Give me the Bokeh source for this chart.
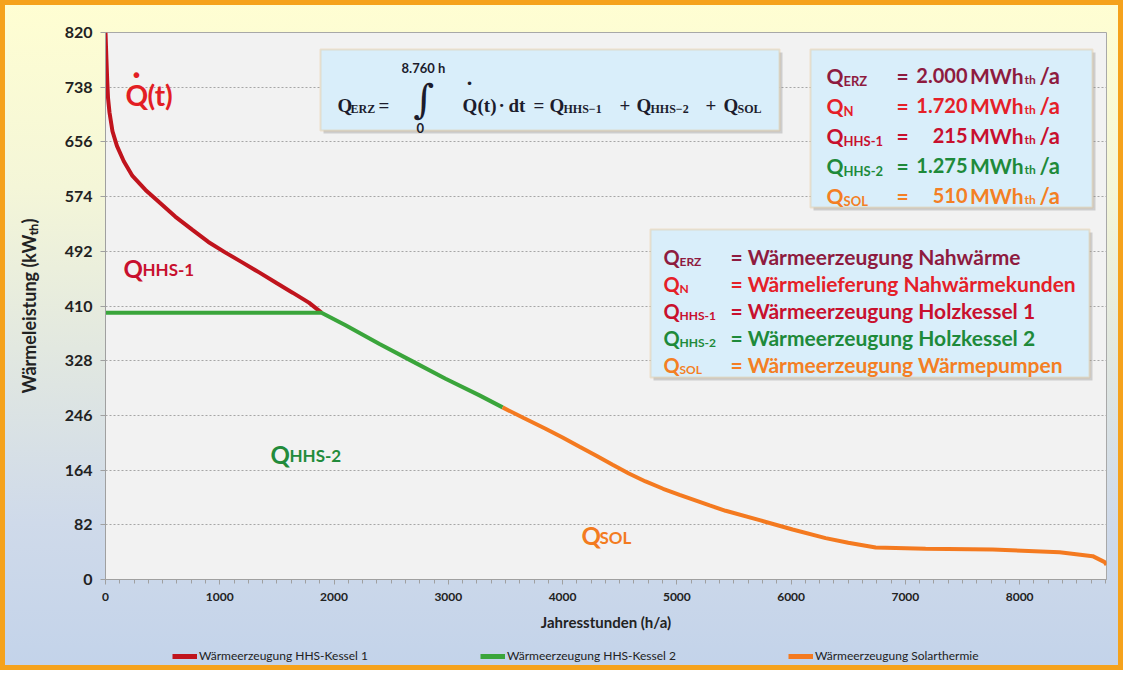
from bokeh.plotting import figure
from bokeh.layouts import column
from bokeh.models import (Range1d, FixedTicker, Label, BoxAnnotation, Legend, LegendItem)
from bokeh.embed import file_html
from bokeh.resources import INLINE

# ---------------- data ----------------
red_hours = [0, 8, 15, 22, 35, 61, 100, 160, 236, 350, 473, 610, 761, 900, 1050, 1200, 1348, 1500, 1637, 1780, 1890]
red_kw = [820, 780, 748, 722, 700, 672, 650, 627, 605, 584, 565, 544, 524, 506, 490, 475, 460, 444, 430, 415, 400]

green_hours = [0, 1890, 2101, 2398, 2687, 2976, 3273, 3475]
green_kw = [400, 400, 381, 353, 327, 301, 276, 258]

orange_hours = [3475, 3660, 3851, 4000, 4149, 4300, 4438, 4580, 4726, 4880, 5024, 5287, 5427, 5724, 6013,
                6302, 6500, 6740, 7177, 7764, 8350, 8639, 8744, 8760]
orange_kw = [258, 242, 226, 213, 199, 185, 172, 159, 147, 136, 127, 111, 103, 89, 75,
             62, 55, 48, 46, 45, 41, 35, 26, 22]

y_ticks = [0, 82, 164, 246, 328, 410, 492, 574, 656, 738, 820]
x_ticks = [0, 1000, 2000, 3000, 4000, 5000, 6000, 7000, 8000]
x_minor = list(range(0, 8761, 125))

series_names = ["Wärmeerzeugung HHS-Kessel 1", "Wärmeerzeugung HHS-Kessel 2",
                "Wärmeerzeugung Solarthermie"]
series_colors = ["#c0141d", "#3aa53b", "#f47a20"]
series_data = [(red_hours, red_kw), (green_hours, green_kw), (orange_hours, orange_kw)]

# ---------------- main figure ----------------
FONT = "Lato"
p = figure(width=1123, height=640, output_backend="svg", toolbar_location=None,
           x_range=Range1d(0, 8760), y_range=Range1d(0, 820),
           min_border_left=105, min_border_right=17, min_border_top=32, min_border_bottom=61)
p.border_fill_color = None
p.border_fill_alpha = 0
p.background_fill_color = "#f2f2f2"
p.outline_line_color = "#a8a8a8"

p.xgrid.visible = False
p.ygrid.grid_line_color = "#a6a6a6"
p.ygrid.grid_line_dash = "2 2"
p.ygrid.grid_line_width = 1

p.yaxis.ticker = FixedTicker(ticks=y_ticks)
p.xaxis.ticker = FixedTicker(ticks=x_ticks, minor_ticks=x_minor)

for ax in (p.xaxis[0], p.yaxis[0]):
    ax.axis_line_color = "#a0a0a0"
    ax.major_tick_line_color = "#a0a0a0"
    ax.minor_tick_line_color = "#a0a0a0"
    ax.major_tick_in = 0
    ax.major_tick_out = 5
    ax.minor_tick_in = 0
    ax.minor_tick_out = 4
    ax.major_label_text_font = FONT
    ax.major_label_text_font_style = "bold"
    ax.major_label_text_color = "#222222"
    ax.axis_label_text_font = FONT
    ax.axis_label_text_font_style = "bold"
    ax.axis_label_text_color = "#222222"

p.yaxis.minor_tick_out = 0
p.yaxis.major_label_text_font_size = "16px"
p.yaxis.major_label_standoff = 8
p.yaxis.axis_label = "Wärmeleistung (kWₜₕ)"
p.yaxis.axis_label_text_font_size = "18px"
p.yaxis.axis_label_standoff = 22

p.xaxis.major_label_text_font_size = "12px"
p.xaxis.major_label_standoff = 8
p.xaxis.axis_label = "Jahresstunden (h/a)"
p.xaxis.axis_label_text_font_size = "15px"
p.xaxis.axis_label_standoff = 9

for (hx, ky), col in zip(series_data, series_colors):
    p.line(hx, ky, line_color=col, line_width=4)

# ---------------- annotation helpers (page pixel positions -> frame screen units) ----------------
FL, FB = 113, 587


def box(l, t, r, b):
    p.add_layout(BoxAnnotation(left=l - FL + 3, right=r - FL + 3, top=FB - t - 3, bottom=FB - b - 3,
                               left_units="screen", right_units="screen", top_units="screen",
                               bottom_units="screen", fill_color="#8a8a8a", fill_alpha=0.35,
                               line_alpha=0))
    p.add_layout(BoxAnnotation(left=l - FL, right=r - FL, top=FB - t, bottom=FB - b,
                               left_units="screen", right_units="screen", top_units="screen",
                               bottom_units="screen", fill_color="#d9eefa", fill_alpha=1,
                               line_color="#e3b672", line_width=2))


def txt(x, y, s, size, color, font=FONT, style="bold", align="left"):
    p.add_layout(Label(x=x - FL, y=FB - y, x_units="screen", y_units="screen", text=s,
                       text_font=font, text_font_size=f"{size}px", text_font_style=style,
                       text_color=color, text_baseline="alphabetic", text_align=align))


box(328, 57, 787, 138)
box(818, 57, 1100, 215)
box(658, 237, 1097, 385)

# formula
SER = "Liberation Serif"
FC = "#1c1c2c"
txt(345, 113, "Q", 19, FC, SER)
txt(358, 116, "ERZ", 12, FC, SER)
txt(386, 113, "=", 19, FC, SER)
txt(421, 106, "∫", 40, FC, "DejaVu Serif", "normal")
txt(409, 75, "8.760 h", 13, FC)
txt(424, 135, "0", 13, FC)
txt(470, 113, "Q", 19, FC, SER)
txt(477, 97, "˙", 24, FC, SER, "bold", "center")
txt(485, 113, "(t)", 19, FC, SER)
txt(506, 113, "·", 19, FC, SER)
txt(516, 113, "dt", 19, FC, SER)
txt(541, 113, "=", 19, FC, SER)
txt(557, 113, "Q", 19, FC, SER)
txt(571, 116, "HHS−1", 12, FC, SER)
txt(627, 113, "+", 19, FC, SER)
txt(644, 113, "Q", 19, FC, SER)
txt(658, 116, "HHS−2", 12, FC, SER)
txt(713, 113, "+", 19, FC, SER)
txt(731, 113, "Q", 19, FC, SER)
txt(745, 116, "SOL", 12, FC, SER)

# box 1: annual energies
C_ERZ, C_N, C_H1, C_H2, C_SOL = "#8e1b3f", "#e52028", "#c8102e", "#1e8a3a", "#f47f24"
rows1 = [("ERZ", "2.000", C_ERZ), ("N", "1.720", C_N), ("HHS-1", "215", C_H1),
         ("HHS-2", "1.275", C_H2), ("SOL", "510", C_SOL)]
for i, (sub, val, col) in enumerate(rows1):
    yb = 83 + 30 * i
    txt(834, yb, "Q", 21, col)
    txt(851, yb + 5, sub, 13, col)
    txt(904, yb, "=", 21, col)
    txt(975, yb, val, 20, col, align="right")
    txt(1031, yb, "MWh", 21, col, align="right")
    txt(1032, yb + 4, "th", 12, col)
    txt(1047, yb, "/a", 22, col)

# box 2: definitions
rows2 = [("ERZ", "= Wärmeerzeugung Nahwärme", C_ERZ),
         ("N", "= Wärmelieferung Nahwärmekunden", C_N),
         ("HHS-1", "= Wärmeerzeugung Holzkessel 1", C_H1),
         ("HHS-2", "= Wärmeerzeugung Holzkessel 2", C_H2),
         ("SOL", "= Wärmeerzeugung Wärmepumpen", C_SOL)]
for i, (sub, s, col) in enumerate(rows2):
    yb = 264 + 27 * i
    txt(671, yb, "Q", 20, col)
    txt(687, yb + 5, sub, 12, col)
    txt(738, yb, s, 21, col)

# labels in the chart
txt(133, 102, "Q", 28, "#e31e24")
txt(144, 92, "˙", 36, "#e31e24", align="center")
txt(155, 102, "(t)", 28, "#e31e24")
txt(131, 276, "Q", 24, C_H1)
txt(150, 277, "HHS-1", 17, C_H1)
txt(278, 462, "Q", 24, "#228b3b")
txt(297, 463, "HHS-2", 17, "#228b3b")
txt(589, 543, "Q", 24, "#f37b20")
txt(607, 545, "SOL", 17, "#f37b20")

# ---------------- legend strip below (series drawn out of view, only legend shown) ----------------
lf = figure(width=1123, height=30, output_backend="svg", toolbar_location=None,
            x_range=Range1d(0, 1), y_range=Range1d(-2, -1),
            x_axis_location=None, y_axis_location=None,
            min_border_left=0, min_border_right=0, min_border_top=0, min_border_bottom=0)
lf.border_fill_color = None
lf.border_fill_alpha = 0
lf.background_fill_color = None
lf.background_fill_alpha = 0
lf.outline_line_color = None
lf.grid.visible = False
items = []
for name, col, (hx, ky) in zip(series_names, series_colors, series_data):
    rr = lf.line(hx, ky, line_color=col, line_width=5)
    items.append(LegendItem(label=name, renderers=[rr]))
lf.add_layout(Legend(items=items, orientation="horizontal", location=(67, 7),
                     background_fill_alpha=0, border_line_alpha=0,
                     label_text_font=FONT, label_text_font_size="12px", label_text_color="#222222",
                     glyph_width=25, glyph_height=10, spacing=112, label_standoff=2,
                     padding=0, margin=0), "center")

layout = column(p, lf, spacing=0,
                styles={"background": "linear-gradient(180deg, #fffed2 0%, #f4f6d8 28%, #e2e8e0 52%, #cfdaea 78%, #c3d3ea 100%)",
                        "box-shadow": "inset 0 0 0 5px #f5a21c"})

open("out.html", "w").write(file_html(layout, INLINE))
